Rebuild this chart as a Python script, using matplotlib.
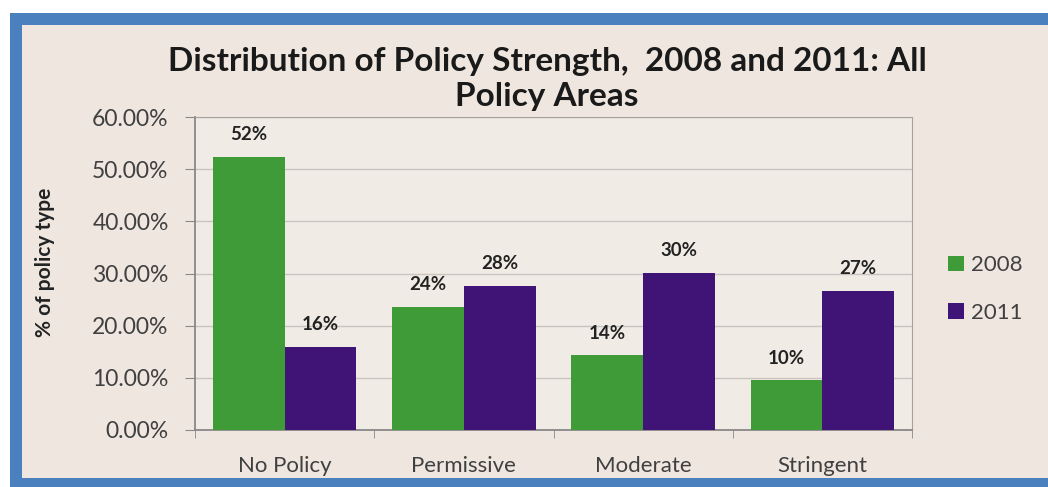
import matplotlib
matplotlib.use("Agg")
import matplotlib.pyplot as plt
from matplotlib.patches import Rectangle
import numpy as np

# data
categories = ["No Policy", "Permissive", "Moderate", "Stringent"]
years = ["2008", "2011"]
values_2008 = [52.4, 23.6, 14.3, 9.5]
values_2011 = [16.0, 27.6, 30.1, 26.7]
labels_2008 = ["52%", "24%", "14%", "10%"]
labels_2011 = ["16%", "28%", "30%", "27%"]
yticks = [0, 10, 20, 30, 40, 50, 60]

green = "#3f9b37"
purple = "#401377"
panel_bg = "#efe7df"
frame_blue = "#4a80bd"

plt.rcParams["font.family"] = ["Lato", "DejaVu Sans"]

W, H = 1048, 487
fig = plt.figure(figsize=(W / 100, H / 100), dpi=100)
fig.patch.set_facecolor("white")

# blue frame and beige panel behind the chart
fig.add_artist(Rectangle((10 / W, 0), 1.0, 474 / H, transform=fig.transFigure,
                         facecolor=frame_blue, edgecolor="none", zorder=-10))
fig.add_artist(Rectangle((22 / W, 9 / H), 1.0, (462 - 9) / H, transform=fig.transFigure,
                         facecolor=panel_bg, edgecolor="none", zorder=-9))

ax = fig.add_axes([195 / W, 57 / H, (912 - 195) / W, (430 - 117) / H])
ax.set_facecolor("#f1ebe5")

x = np.arange(len(categories))
width = 0.40
b1 = ax.bar(x - width / 2, values_2008, width, color=green, label=years[0], zorder=3)
b2 = ax.bar(x + width / 2, values_2011, width, color=purple, label=years[1], zorder=3)

for bars, labs in ((b1, labels_2008), (b2, labels_2011)):
    for rect, lab in zip(bars, labs):
        ax.annotate(lab, (rect.get_x() + rect.get_width() / 2, rect.get_height()),
                    xytext=(0, 10), textcoords="offset points", ha="center", va="bottom",
                    fontsize=13.5, fontweight="bold", color="#222222")

ax.set_ylim(0, 60)
ax.set_xlim(-0.5, len(categories) - 0.5)
ax.set_yticks(yticks)
ax.set_yticklabels(["%.2f%%" % v for v in yticks], fontsize=16.5, color="#404040")
ax.set_xticks(x)
ax.set_xticklabels(categories, fontsize=16, color="#404040")
ax.tick_params(axis="x", length=0, pad=19)
ax.set_xticks(np.arange(-0.5, len(categories)), minor=True)
ax.tick_params(axis="x", which="minor", length=6, color="#888888")
ax.tick_params(axis="y", length=7, color="#888888", pad=12)
ax.yaxis.grid(True, color="#c9c4bf", linewidth=1, zorder=0)

for side in ("top", "right"):
    ax.spines[side].set_color("#a8a29c")
for side in ("left", "bottom"):
    ax.spines[side].set_color("#888888")
    ax.spines[side].set_linewidth(1.3)

ax.set_ylabel("% of policy type", fontsize=15, fontweight="bold", color="#222222")
ax.yaxis.set_label_coords((55 - 195) / (912 - 195), (430 - 262) / (430 - 117))

fig.text(547 / W, 1 - 79 / H, "Distribution of Policy Strength,  2008 and 2011: All\nPolicy Areas",
         ha="center", va="center", fontsize=24, fontweight="bold", color="#1a1a1a",
         linespacing=1.25)

fig.legend(handles=[b1, b2], labels=years, loc="center left",
           bbox_to_anchor=(928 / W, 1 - 289 / H), frameon=False, fontsize=16,
           handlelength=0.7, handleheight=0.7, handletextpad=0.35, labelspacing=1.25,
           labelcolor="#404040")

fig.savefig("out.png", dpi=100, facecolor=fig.get_facecolor())
